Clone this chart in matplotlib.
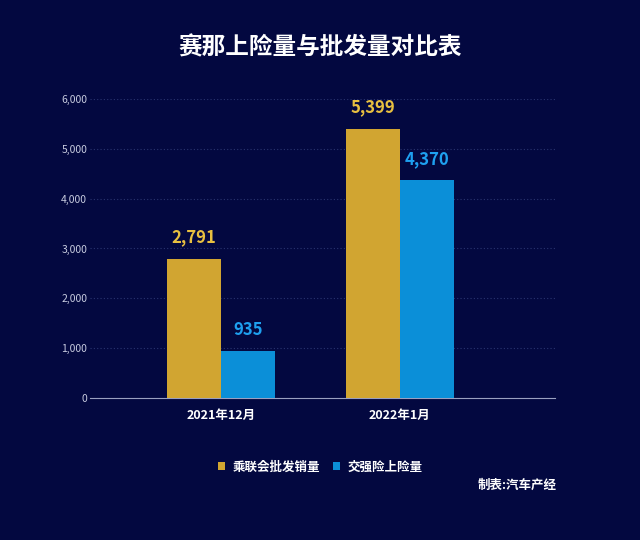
import numpy as np
import matplotlib
matplotlib.use("Agg")
import matplotlib.pyplot as plt
from matplotlib import font_manager as fm

# pick an installed CJK font by name from the font list
cjk = [f.name for f in fm.fontManager.ttflist if "CJK" in f.name]
name = "Noto Sans CJK SC" if "Noto Sans CJK SC" in cjk else (cjk[0] if cjk else "DejaVu Sans")
plt.rcParams["font.family"] = [name, "DejaVu Sans"]

categories = ["2021年12月", "2022年1月"]
wholesale = [2791, 5399]
insurance = [935, 4370]
yticks = [0, 1000, 2000, 3000, 4000, 5000, 6000]

BG, GOLD, BLUE = "#030840", "#d1a531", "#0b8fd8"

fig = plt.figure(figsize=(6.4, 5.4), dpi=100, facecolor=BG)
ax = fig.add_axes([0.1406, 0.263, 0.7264, 0.5537], facecolor=BG)
x = np.arange(len(categories))
w = 0.30
ax.bar(x - w / 2, wholesale, w, color=GOLD, label="乘联会批发销量", zorder=3)
ax.bar(x + w / 2, insurance, w, color=BLUE, label="交强险上险量", zorder=3)
for xi, v in zip(x, wholesale):
    ax.text(xi - w / 2, v + 250, f"{v:,}", color="#e8c040", ha="center", va="bottom",
            fontsize=12, fontweight="bold")
for xi, v in zip(x, insurance):
    ax.text(xi + w / 2, v + 250, f"{v:,}", color="#1ea0f0", ha="center", va="bottom",
            fontsize=12, fontweight="bold")

ax.set_xlim(-0.732, 1.866)
ax.set_ylim(0, 6000)
ax.set_yticks(yticks)
ax.set_yticklabels([f"{t:,}" for t in yticks], color="#c8cce0", fontsize=7.5)
ax.set_xticks(x)
ax.set_xticklabels(categories, color="white", fontsize=9, fontweight="bold")
ax.tick_params(length=0, pad=2)
ax.tick_params(axis="x", pad=8)
ax.grid(axis="y", color="#2a3470", ls=(0, (1, 2)), lw=0.8, zorder=0)
for s in ["top", "right", "left"]:
    ax.spines[s].set_visible(False)
ax.spines["bottom"].set_color("#9aa0c0")

fig.text(0.5, 0.90, "赛那上险量与批发量对比表", color="white", ha="center",
         fontsize=17, fontweight="bold")
leg = fig.legend(loc="center", bbox_to_anchor=(0.5, 0.135), ncol=2, frameon=False,
                 handlelength=0.6, handleheight=0.6, columnspacing=1.0, handletextpad=0.6,
                 fontsize=9)
for t in leg.get_texts():
    t.set_color("white")
    t.set_fontweight("bold")
fig.text(0.87, 0.095, "制表:汽车产经", color="white", ha="right", fontsize=9, fontweight="bold")

fig.savefig("out.png", dpi=100, facecolor=BG)
